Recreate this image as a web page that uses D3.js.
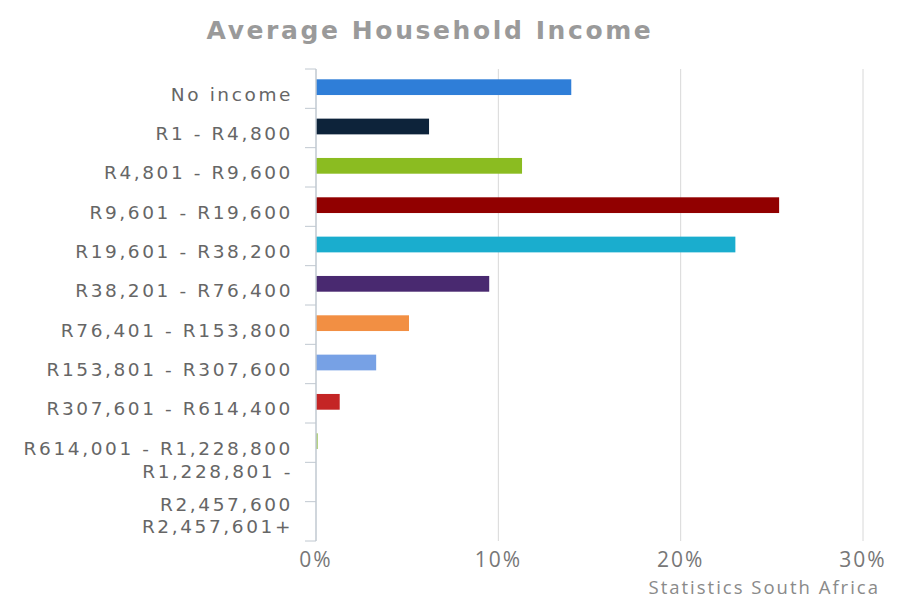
<!DOCTYPE html>
<html>
<head>
<meta charset="utf-8">
<script src="https://cdn.jsdelivr.net/npm/d3@7"></script>
<style>
  body { margin: 0; background: #fff; }
  svg { display: block; }
</style>
</head>
<body>
<div id="chart"></div>
<script>
// data
var categories = ["No income", "R1 - R4,800", "R4,801 - R9,600", "R9,601 - R19,600",
    "R19,601 - R38,200", "R38,201 - R76,400", "R76,401 - R153,800", "R153,801 - R307,600",
    "R307,601 - R614,400", "R614,001 - R1,228,800", "R1,228,801 - R2,457,600", "R2,457,601+"];
var labelLines = [["No income"], ["R1 - R4,800"], ["R4,801 - R9,600"], ["R9,601 - R19,600"],
    ["R19,601 - R38,200"], ["R38,201 - R76,400"], ["R76,401 - R153,800"], ["R153,801 - R307,600"],
    ["R307,601 - R614,400"], ["R614,001 - R1,228,800"], ["R1,228,801 -", "R2,457,600"], ["R2,457,601+"]];
var values = [14.0, 6.2, 11.3, 25.4, 23.0, 9.5, 5.1, 3.3, 1.3, 0.1, 0, 0];
var colors = ["#2f7ed8", "#0d233a", "#8bbc21", "#910000", "#1aadce", "#492970",
    "#f28f43", "#77a1e5", "#c42525", "#a6c96a", "#2f7ed8", "#0d233a"];
var xTicks = [0, 10, 20, 30];

var width = 898, height = 600;
var svg = d3.select("#chart").append("svg").attr("width", width).attr("height", height);

var x = d3.scaleLinear().domain([0, 30]).range([316, 863]);
var y = d3.scaleBand().domain(categories).range([69, 541]).paddingInner(0.6).paddingOuter(0.3);
var step = y.step();

// title
svg.append("text")
    .attr("x", 430).attr("y", 39)
    .attr("text-anchor", "middle")
    .style("font-family", "DejaVu Sans, Verdana, sans-serif")
    .style("font-weight", "bold")
    .style("font-size", "25px")
    .style("letter-spacing", "2.6px")
    .style("fill", "#9a9a9a")
    .text("Average Household Income");

// grid lines
svg.append("g").selectAll("line").data(xTicks.slice(1)).enter().append("line")
    .attr("x1", function(d){ return x(d); }).attr("x2", function(d){ return x(d); })
    .attr("y1", 69).attr("y2", 541)
    .attr("stroke", "#d8d8d8").attr("stroke-width", 1);

// bars
svg.append("g").selectAll("rect").data(values).enter().append("rect")
    .attr("x", x(0))
    .attr("y", function(d, i){ return y(categories[i]) - 1.5; })
    .attr("width", function(d){ return x(d) - x(0); })
    .attr("height", y.bandwidth())
    .attr("fill", function(d, i){ return colors[i]; });

// category axis line and ticks between categories
var ax = svg.append("g");
ax.append("line").attr("x1", 316).attr("x2", 316).attr("y1", 69).attr("y2", 541)
    .attr("stroke", "#c0c8d0").attr("stroke-width", 1.5);
var tickPos = d3.range(categories.length + 1).map(function(i){ return 69 + i * step; });
ax.selectAll(".tk").data(tickPos).enter().append("line")
    .attr("x1", 305).attr("x2", 316)
    .attr("y1", function(d){ return d; }).attr("y2", function(d){ return d; })
    .attr("stroke", "#c0c8d0").attr("stroke-width", 1);

// category labels
var lab = svg.append("g")
    .style("font-family", "DejaVu Sans, Verdana, sans-serif")
    .style("font-size", "18.5px")
    .style("letter-spacing", "2.6px")
    .style("fill", "#666");
labelLines.forEach(function(lines, i){
    var cy = y(categories[i]) + y.bandwidth() / 2 + 5;
    var t = lab.append("text").attr("text-anchor", "end").attr("dominant-baseline", "central");
    lines.forEach(function(s, j){
        t.append("tspan").attr("x", 293)
            .attr("y", cy + (j - (lines.length - 1) / 2) * 33)
            .text(s);
    });
});

// value axis labels
svg.append("g").selectAll("text").data(xTicks).enter().append("text")
    .attr("x", function(d){ return x(d); })
    .attr("y", 567)
    .attr("text-anchor", "middle")
    .style("font-family", "Open Sans, sans-serif")
    .style("font-size", "21px")
    .style("letter-spacing", "2px")
    .style("fill", "#777")
    .text(function(d){ return d + "%"; });

// credit
svg.append("text")
    .attr("x", 880).attr("y", 594)
    .attr("text-anchor", "end")
    .style("font-family", "Open Sans, sans-serif")
    .style("font-size", "18.5px")
    .style("letter-spacing", "2px")
    .style("fill", "#8a8a8a")
    .text("Statistics South Africa");
</script>
</body>
</html>
